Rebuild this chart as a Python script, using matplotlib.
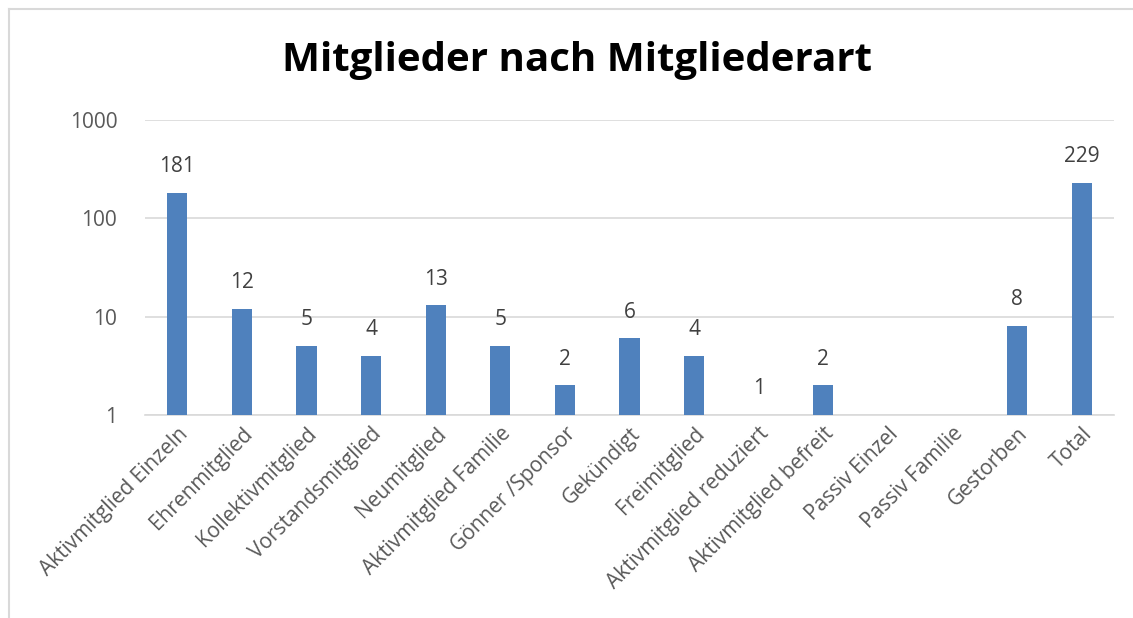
import numpy as np
import matplotlib
matplotlib.use("Agg")
import matplotlib.pyplot as plt
from matplotlib.lines import Line2D

# data
categories = ["Aktivmitglied Einzeln", "Ehrenmitglied", "Kollektivmitglied",
              "Vorstandsmitglied", "Neumitglied", "Aktivmitglied Familie",
              "Gönner /Sponsor", "Gekündigt", "Freimitglied",
              "Aktivmitglied reduziert", "Aktivmitglied befreit",
              "Passiv Einzel", "Passiv Familie", "Gestorben", "Total"]
counts = [181, 12, 5, 4, 13, 5, 2, 6, 4, 1, 2, 0, 0, 8, 229]
title = "Mitglieder nach Mitgliederart"

plt.rcParams['font.family'] = ['Open Sans', 'DejaVu Sans']

fig = plt.figure(figsize=(11.33, 6.18), dpi=100)
W, H = 1133, 618
ax = fig.add_axes([145 / W, 1 - 415 / H, (1114 - 145) / W, (415 - 120) / H])

x = np.arange(len(categories))
ax.bar(x, counts, width=0.31, color="#4F81BD", zorder=3)
ax.set_yscale("log")
ax.set_ylim(1, 1000)
ax.set_xlim(-0.5, len(categories) - 0.5)

# value labels (skip empty ones)
for xi, c in zip(x, counts):
    if c > 0:
        ax.annotate(str(c), (xi, c), xytext=(0, 19), textcoords="offset points",
                    ha="center", va="center", fontsize=15, color="#404040")

ax.set_yticks([1, 10, 100, 1000])
ax.set_yticklabels(["1", "10", "100", "1000"])
ax.minorticks_off()
ax.yaxis.grid(True, color="#D9D9D9", linewidth=1.2, zorder=0)
ax.tick_params(axis="y", length=0, pad=20, labelsize=15, labelcolor="#595959")
ax.tick_params(axis="x", length=0, pad=6, labelsize=15, labelcolor="#595959")
ax.set_xticks(x)
ax.set_xticklabels(categories, rotation=45, ha="right", rotation_mode="anchor")
for s in ["top", "right", "left"]:
    ax.spines[s].set_visible(False)
ax.spines["bottom"].set_color("#D9D9D9")
ax.spines["bottom"].set_linewidth(1.2)

fig.text(577 / W, 1 - 60 / H, title, ha="center", va="center",
         fontsize=29, fontweight="bold", color="black")

# outer chart frame (left and top edges visible)
fig.add_artist(Line2D([8.5 / W, 8.5 / W], [0, 1 - 8.5 / H], transform=fig.transFigure,
                      color="#D9D9D9", linewidth=1.5))
fig.add_artist(Line2D([8.5 / W, 1], [1 - 8.5 / H, 1 - 8.5 / H], transform=fig.transFigure,
                      color="#D9D9D9", linewidth=1.5))

fig.savefig("out.png", dpi=100)
